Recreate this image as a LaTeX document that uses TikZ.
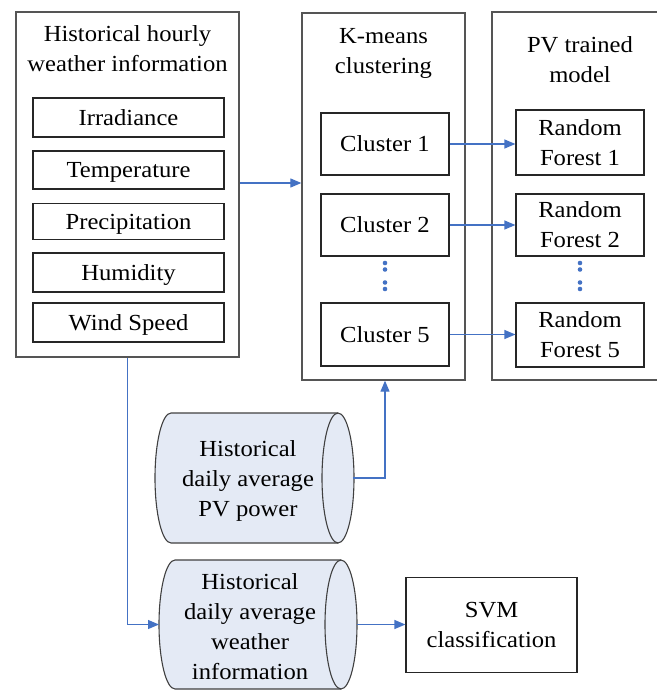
\documentclass[tikz,border=0pt]{standalone}
\usepackage{fontspec}
\setmainfont{Liberation Serif}[FakeStretch=1.07]
\usetikzlibrary{arrows.meta}
\definecolor{flow}{HTML}{4472C4}
\definecolor{tank}{HTML}{E4EAF5}
\definecolor{frame}{HTML}{555555}

\begin{document}
\begin{tikzpicture}[x=1pt, y=-1pt,
  font=\fontsize{23}{30}\selectfont,
  group/.style={draw=frame, line width=1.3pt, inner sep=0pt},
  item/.style={draw=black!85, line width=1.2pt, inner sep=0pt, align=center},
  single/.style={text height=18pt, text depth=3pt},
  label/.style={inner sep=0pt, align=center},
  tankline/.style={draw=black!75, line width=1.1pt, fill=tank},
  link/.style={draw=flow, line width=1.2pt, -{Triangle[length=11pt,width=9pt]}},
  dot/.style={fill=flow}]
\useasboundingbox (0,0) rectangle (656,690);

% left group: hourly weather inputs
\node[group, minimum width=223pt, minimum height=345pt] (hist) at (127.5,184.5) {};
\node[label] (histtitle) at (127.5,48.5) {Historical hourly\\weather information};
\node[item, single, minimum width=191pt, minimum height=39pt] (irr)  at (128.5,117.5) {Irradiance};
\node[item, single, minimum width=191pt, minimum height=38pt] (temp) at (128.5,170)   {Temperature};
\node[item, single, minimum width=191pt, minimum height=36pt] (prec) at (128.5,221.5) {Precipitation};
\node[item, single, minimum width=191pt, minimum height=39pt] (hum)  at (128.5,272.5) {Humidity};
\node[item, single, minimum width=191pt, minimum height=39pt] (wind) at (128.5,322.5) {Wind Speed};

% clustering group
\node[group, minimum width=163pt, minimum height=367pt] (kmeans) at (383.5,196.5) {};
\node[label] (kmtitle) at (383.5,53) {K-means\\clustering};
\node[item, single, minimum width=128pt, minimum height=62pt] (c1) at (385,144)   {Cluster 1};
\node[item, single, minimum width=128pt, minimum height=62pt] (c2) at (385,225)   {Cluster 2};
\node[item, single, minimum width=128pt, minimum height=63pt] (c5) at (385,334.5) {Cluster 5};

% trained model group
\node[group, minimum width=176pt, minimum height=368pt] (pvm) at (580,196) {};
\node[label] (pvtitle) at (580,59.5) {PV trained\\model};
\node[item, minimum width=128pt, minimum height=65pt] (rf1) at (580,142.5) {Random\\Forest 1};
\node[item, minimum width=128pt, minimum height=62pt] (rf2) at (580,225)   {Random\\Forest 2};
\node[item, minimum width=128pt, minimum height=64pt] (rf5) at (580,335)   {Random\\Forest 5};

% vertical ellipses between cluster 2 and cluster 5
\foreach \yy in {263,269.5,282.5,289}{
  \fill[dot] (385,\yy) circle[radius=2.3pt];
  \fill[dot] (580,\yy) circle[radius=2.3pt];
}

% data store: daily average PV power
\path[tankline] (171,413) -- (338,413)
  arc[start angle=-90, end angle=90, x radius=16, y radius=65]
  -- (171,543)
  arc[start angle=90, end angle=270, x radius=16, y radius=65] -- cycle;
\draw[tankline, fill=none] (338,413) arc[start angle=270, end angle=90, x radius=16, y radius=65];
\node[label] (pv) at (248,481) {Historical\\daily average\\PV power};
\coordinate (pvout) at (353,478);

% data store: daily average weather
\path[tankline] (175,560) -- (341,560)
  arc[start angle=-90, end angle=90, x radius=16, y radius=64.5]
  -- (175,689)
  arc[start angle=90, end angle=270, x radius=16, y radius=64.5] -- cycle;
\draw[tankline, fill=none] (341,560) arc[start angle=270, end angle=90, x radius=16, y radius=64.5];
\node[label] (wd) at (250,627) {Historical\\daily average\\weather\\information};
\coordinate (wdin)  at (159,624.5);
\coordinate (wdout) at (357,624.5);

% classifier
\node[item, minimum width=171pt, minimum height=95pt] (svm) at (491.5,625) {SVM\\classification};

% connectors
\draw[link] (hist.east |- 0,183) -- (kmeans.west |- 0,183);
\draw[link] (c1.east) -- (c1.east -| rf1.west);
\draw[link] (c2.east) -- (c2.east -| rf2.west);
\draw[link] (c5.east) -- (c5.east -| rf5.west);
\draw[link] (pvout) -| (c5.south |- kmeans.south);
\draw[link] (hist.south) |- (wdin);
\draw[link] (wdout) -- (svm.west |- wdout);
\end{tikzpicture}
\end{document}
